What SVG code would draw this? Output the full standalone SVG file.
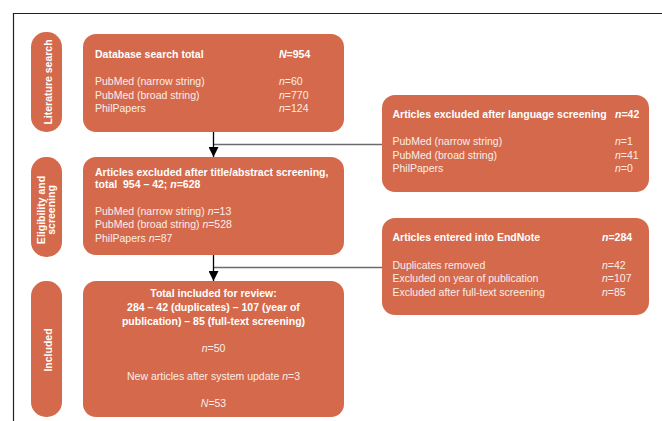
<svg xmlns="http://www.w3.org/2000/svg" width="662" height="421" viewBox="0 0 662 421">
<style>
.box{fill:#d4694b}
text{font-family:"Liberation Sans",Arial,sans-serif;font-size:10.5px;fill:#fbeee9}
.b{font-weight:bold;fill:#ffffff}
.m{text-anchor:middle}
.lab{font-weight:bold;fill:#ffffff;text-anchor:middle;font-size:10.5px}
.grey{stroke:#6b6b6b;stroke-width:1.4;fill:none}
.blk{stroke:#000;stroke-width:1.3;fill:none}
</style>
<defs>
<marker id="arr" viewBox="0 0 10 10" refX="10" refY="5" markerWidth="10" markerHeight="10" markerUnits="userSpaceOnUse" orient="auto">
<path d="M0,0 L10,5 L0,10 Z" fill="#000"/>
</marker>
</defs>
<rect width="662" height="421" fill="#fff"/>
<path d="M13.5,421 V13.5 H662" fill="none" stroke="#222" stroke-width="1.2"/>

<g id="stage-literature">
<rect class="box" x="31" y="32" width="31" height="100" rx="15"/>
<text class="lab" transform="translate(51.5,82) rotate(-90)">Literature search</text>
</g>
<g id="stage-eligibility">
<rect class="box" x="31" y="157" width="31" height="100" rx="15"/>
<text class="lab" transform="translate(44.5,210) rotate(-90)">Eligibility and</text>
<text class="lab" transform="translate(55,210) rotate(-90)">screening</text>
</g>
<g id="stage-included">
<rect class="box" x="31" y="281" width="31" height="136" rx="15"/>
<text class="lab" transform="translate(51.5,350) rotate(-90)">Included</text>
</g>

<g id="connectors">
<path class="grey" d="M213.5,144.5 H382"/>
<path class="grey" d="M213.5,267.5 H382"/>
<path class="blk" d="M213.5,132 V157" marker-end="url(#arr)"/>
<path class="blk" d="M213.5,255 V281" marker-end="url(#arr)"/>
</g>

<g id="database-search">
<rect class="box" x="83" y="34" width="261" height="98" rx="13"/>
<text class="b" x="95" y="58">Database search total</text>
<text class="b" x="279" y="58"><tspan font-style="italic">N</tspan>=954</text>
<text x="95" y="84.5">PubMed (narrow string)</text>
<text x="95" y="98.5">PubMed (broad string)</text>
<text x="95" y="112">PhilPapers</text>
<text x="279" y="84.5"><tspan font-style="italic">n</tspan>=60</text>
<text x="279" y="98.5"><tspan font-style="italic">n</tspan>=770</text>
<text x="279" y="112"><tspan font-style="italic">n</tspan>=124</text>
</g>

<g id="language-excluded">
<rect class="box" x="382" y="95" width="267" height="97" rx="13"/>
<text class="b" x="392.5" y="118">Articles excluded after language screening</text>
<text class="b" x="615" y="118"><tspan font-style="italic">n</tspan>=42</text>
<text x="392.5" y="144.5">PubMed (narrow string)</text>
<text x="392.5" y="158.5">PubMed (broad string)</text>
<text x="392.5" y="172">PhilPapers</text>
<text x="615" y="144.5"><tspan font-style="italic">n</tspan>=1</text>
<text x="615" y="158.5"><tspan font-style="italic">n</tspan>=41</text>
<text x="615" y="172"><tspan font-style="italic">n</tspan>=0</text>
</g>

<g id="title-abstract-excluded">
<rect class="box" x="83" y="157" width="261" height="98" rx="13"/>
<text class="b" x="95" y="175.5">Articles excluded after title/abstract screening,</text>
<text class="b" x="95" y="188" xml:space="preserve">total  954 – 42; <tspan font-style="italic">n</tspan>=628</text>
<text x="95" y="214.5">PubMed (narrow string) <tspan font-style="italic">n</tspan>=13</text>
<text x="95" y="228">PubMed (broad string) <tspan font-style="italic">n</tspan>=528</text>
<text x="95" y="241.5">PhilPapers <tspan font-style="italic">n</tspan>=87</text>
</g>

<g id="endnote">
<rect class="box" x="382" y="218" width="267" height="97" rx="13"/>
<text class="b" x="392.5" y="241">Articles entered into EndNote</text>
<text class="b" x="602" y="241"><tspan font-style="italic">n</tspan>=284</text>
<text x="392.5" y="268.5">Duplicates removed</text>
<text x="392.5" y="282">Excluded on year of publication</text>
<text x="392.5" y="295.5">Excluded after full-text screening</text>
<text x="602" y="268.5"><tspan font-style="italic">n</tspan>=42</text>
<text x="602" y="282"><tspan font-style="italic">n</tspan>=107</text>
<text x="602" y="295.5"><tspan font-style="italic">n</tspan>=85</text>
</g>

<g id="included">
<rect class="box" x="83" y="281" width="261" height="136" rx="13"/>
<text class="b m" x="213.5" y="297">Total included for review:</text>
<text class="b m" x="213.5" y="311">284 – 42 (duplicates) – 107 (year of</text>
<text class="b m" x="213.5" y="324.5">publication) – 85 (full-text screening)</text>
<text class="m" x="213.5" y="351.5"><tspan font-style="italic">n</tspan>=50</text>
<text class="m" x="213.5" y="379.5">New articles after system update <tspan font-style="italic">n</tspan>=3</text>
<text class="m" x="213.5" y="406.5"><tspan font-style="italic">N</tspan>=53</text>
</g>
</svg>
